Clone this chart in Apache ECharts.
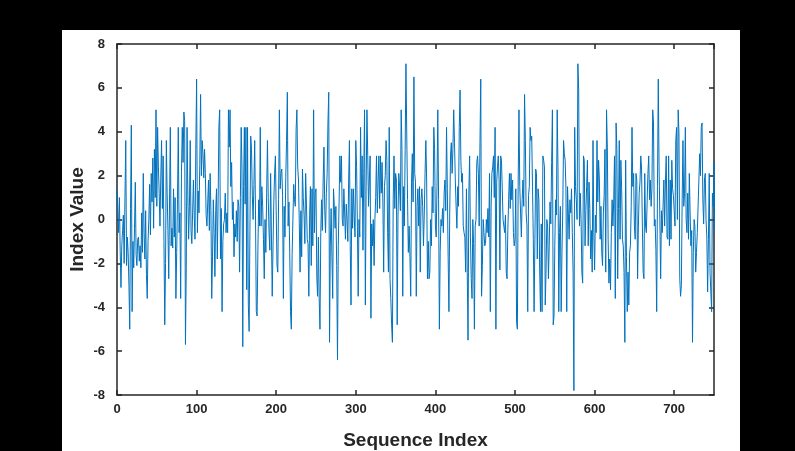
<!DOCTYPE html>
<html><head><meta charset="utf-8">
<script src="https://cdn.jsdelivr.net/npm/echarts@6/dist/echarts.min.js"></script>
<style>
html,body{margin:0;padding:0;background:#000;width:795px;height:451px;overflow:hidden}
#paper{position:absolute;left:62px;top:30px;width:678px;height:421px;background:#fff}
#c{position:absolute;left:0;top:0;width:795px;height:451px}
</style></head>
<body><div id="paper"></div><div id="c"></div>
<script>
const seg1=[1.4,0.5,-0.6,1.0,-1.4,-3.1,-1.2,-0.5,0.2,-2.0,1.0,3.6,-2.1,-0.8,-1.5,-3.0,-5.0,0.5,4.3,-4.2,-1.0,-2.2,-0.4,1.7,-1.6,-2.1,-0.9,-0.8,-1.9,-1.2,-2.2,0.3,-1.5,2.1,-0.6,-1.8,0.4,-2.5,-3.6,-1.0,0.0,1.6,-0.7,2.1,0.8,2.8,-0.4,3.2,1.0,5.0,0.6,4.2,2.4,1.2,-0.3,1.9,3.6,0.5,2.9,-1.0,-4.8];
const seg2=[-2.0,3.6,1.2,-0.5,-2.7,0.8,4.2,-1.2,-0.4,-1.3,1.4,-0.8,1.0,-3.6,-1.5,0.9,4.2,-0.6,0.3,-3.6,2.2,4.2,2.6,4.9,4.5,-5.7,-2.2,4.2,1.1,-0.9,0.6,3.6,-0.5,-1.1,0.3,1.8,0.2,-0.9,3.2,6.4,-0.6,1.3,0.3,2.5,5.7,2.0,3.6,3.0,1.9,3.2,2.1,0.2,-0.3,0.8,1.8,-0.5,2.1,0.4,-3.6,-1.7,0.9];
const seg3=[-0.6,-2.6,0.4,1.4,-1.8,0.7,4.2,5.0,-1.8,0.5,-4.2,-1.0,-0.2,0.0,1.2,-0.6,0.3,-0.6,5.0,3.3,5.0,1.5,2.6,0.0,0.8,-1.7,-0.2,-0.8,0.4,-1.0,0.9,0.6,-2.4,1.0,4.2,2.4,-5.8,1.5,4.2,0.7,4.2,-3.2,4.2,-3.9,-5.1,-0.5,3.8,3.2,1.1,0.0,1.6,3.6,0.2,-4.2,-4.4,-1.4,0.9,-0.3,4.2,-0.3,1.5,0.6,-0.9,-2.7,0.0];
const seg4=[-1.5,1.2,3.6,1.0,-0.6,-1.4,2.1,2.1,-3.5,-1.2,0.8,2.1,2.9,0.4,-2.1,-2.4,0.9,5.0,1.4,2.1,2.3,1.1,-3.6,0.6,-0.8,1.9,3.6,5.8,-0.3,0.8,-1.5,-4.2,-5.0,-1.6,0.0,1.6,0.9,0.6,4.1,5.0,2.4,1.8,-0.2,-2.4,0.4,-1.7,2.3,1.0,0.2,-1.1,2.1,0.7,-0.9,-1.1,-3.5,0.2,1.5,-2.1,1.4,-1.2,5.0,-0.6,1.2];
const seg5=[1.4,-2.6,-3.5,-0.8,-3.6,-5.0,-0.6,0.9,-0.5,1.8,3.3,0.4,-0.6,1.2,2.1,4.4,5.8,-5.6,-1.2,0.5,-1.7,-3.6,1.4,0.6,-0.4,0.6,-2.1,-6.4,-1.2,0.8,2.9,1.7,2.9,0.0,-0.3,1.4,0.3,-0.9,0.7,0.0,-1.0,1.7,3.6,-1.2,-3.9,1.4,-0.4,1.4,0.2,-0.8,3.6,2.4,-0.3,-3.5,0.0,-0.8,4.2,1.0,2.9,-1.4,2.1,5.0];
const seg6=[-3.9,1.5,5.0,2.9,0.6,0.6,2.9,-4.5,-0.2,-1.2,0.0,-2.1,0.0,1.0,2.9,0.3,1.7,2.9,0.5,2.9,1.2,2.6,0.8,-2.4,1.5,2.0,3.6,2.7,-0.6,-2.4,4.2,-2.7,-3.6,-4.8,-5.6,0.9,2.9,0.5,2.1,1.8,-4.8,0.2,2.1,1.5,0.4,5.0,3.2,-3.5,1.5,-0.3,3.2,7.1,3.9,0.9,-1.5,-0.3,-1.7,-3.5,1.7,3.0,0.8,6.5,2.1,1.7];
const seg7=[-3.5,0.6,1.4,-0.3,1.5,-2.4,0.9,1.4,0.6,-1.2,0.2,2.1,3.6,1.8,-2.7,-1.0,-2.7,-2.4,0.0,-1.2,1.5,0.3,4.2,3.2,-0.3,-0.8,1.5,5.0,0.9,-5.0,-1.5,0.0,-0.3,0.5,-0.6,1.2,1.8,0.4,4.2,1.4,-1.7,-4.2,0.3,2.9,3.5,2.1,3.2,5.0,3.5,1.8,0.6,-0.4,1.5,0.6,4.2,5.9,2.7,1.7,2.1,-0.3,-0.6,-0.8,-2.4];
const seg8=[1.4,-2.4,-5.5,1.2,2.9,-0.8,-2.7,-3.6,0.0,-1.1,-5.0,-0.3,0.0,2.6,2.9,2.1,-0.3,3.5,6.4,-3.5,-2.1,0.0,-0.6,-1.2,-1.1,0.0,-0.6,0.5,-0.8,2.1,-4.2,0.6,2.1,2.4,2.9,1.0,4.2,-5.0,1.7,2.4,2.9,1.8,-2.3,2.9,2.7,1.4,0.0,-0.3,-0.6,0.2,-2.4,-2.7,-0.5,0.9,2.1,0.5,2.1,0.9,1.8,-0.6,-1.2];
const seg9=[-0.9,1.4,-4.7,-5.0,1.8,5.0,1.5,0.3,-0.8,0.9,1.8,0.6,5.7,3.6,0.3,-0.3,-4.2,1.1,1.5,4.2,3.6,3.8,1.5,-0.9,-4.2,-4.2,2.3,2.1,-1.8,1.4,0.9,-2.3,-4.2,-0.2,-4.2,2.9,2.7,2.4,-3.9,-2.4,0.0,-0.3,-2.7,-1.2,0.8,-0.2,2.6,5.0,-4.8,-4.4,-1.2,0.9,0.2,5.0,2.4,-4.2,-0.6,0.6,-4.2,-1.5,0.4,3.6,3.0,2.7];
const seg10=[1.4,-4.2,1.5,0.3,-0.9,0.9,0.3,1.4,-0.6,-2.4,-7.8,4.2,1.5,0.9,0.0,7.1,5.9,-0.3,1.2,0.0,-2.4,-2.9,2.9,2.7,-1.2,0.4,1.5,2.7,-1.2,1.7,0.5,-1.8,-0.5,-2.4,3.6,-0.6,-2.3,0.2,-0.6,3.6,0.8,2.7,1.8,-0.9,0.6,-1.5,-2.1,0.3,1.1,3.2,-2.4,5.0,3.3,-0.9,-2.9,-1.8,-3.2,-0.6,0.9,-0.3,0.9,2.9,-3.6,4.4,3.2];
const seg11=[-2.7,0.5,3.6,-0.9,2.7,1.4,-0.9,-1.2,-2.4,-5.6,2.7,-1.7,-4.2,-2.4,-3.9,-1.5,-1.2,0.6,4.2,1.5,2.1,-0.3,-0.9,2.1,1.8,-2.7,-0.3,1.2,1.7,2.9,2.3,-0.3,-2.4,-2.7,2.1,-0.3,-0.6,0.8,2.1,2.9,0.9,1.8,0.6,1.4,5.0,4.4,-0.3,0.0,-1.4,-4.2,1.5,6.4,2.4,0.0,-2.7,0.4,-0.6,0.6,1.8,-0.3];
const seg12=[1.8,2.9,-0.8,-0.9,2.9,-1.2,1.8,-0.9,2.7,1.4,1.1,0.4,-0.3,3.6,4.2,0.0,5.0,3.9,-2.7,-3.5,-3.0,0.9,3.6,0.6,1.2,4.2,0.0,-0.6,1.2,-0.9,2.1,0.3,-1.2,-0.5,-5.6,-1.5,0.0,-0.3,-2.4,-1.5,-0.6,0.6,1.8,3.0,2.0,4.2,4.4,0.9,-0.2,1.8,2.1,0.0,-0.8,-3.3,-0.9,2.1,-2.4,-3.3,-4.2,1.2,0.6,2.6,-0.5];

const xTicks=[0,100,200,300,400,500,600,700];
const yTicks=[-8,-6,-4,-2,0,2,4,6,8];
const xTitle='Sequence Index';
const yTitle='Index Value';

const values=[].concat(seg1,seg2,seg3,seg4,seg5,seg6,seg7,seg8,seg9,seg10,seg11,seg12);
const data=values.map((v,i)=>[i,v]);

const ink='#262626';
const font='"Liberation Sans", Arial, sans-serif';
const lab={color:ink,fontWeight:'bold',fontSize:13,fontFamily:font};
function xa(pos,show){return {type:'value',min:0,max:750,interval:100,position:pos,
  axisLine:{show:true,onZero:false,lineStyle:{color:ink,width:1.5}},
  axisTick:{show:true,inside:true,length:5,lineStyle:{color:ink,width:1.5}},
  axisLabel:Object.assign({show:show,margin:8,showMaxLabel:false},lab),
  splitLine:{show:false},
  name:show?xTitle:'',nameLocation:'middle',nameGap:36,nameMoveOverlap:false,
  nameTextStyle:{color:ink,fontWeight:'bold',fontSize:19,fontFamily:font}};}
function ya(pos,show){return {type:'value',min:-8,max:8,interval:2,position:pos,
  axisLine:{show:true,onZero:false,lineStyle:{color:ink,width:1.5}},
  axisTick:{show:true,inside:true,length:5,lineStyle:{color:ink,width:1.5}},
  axisLabel:Object.assign({show:show,margin:12},lab),
  splitLine:{show:false},
  name:show?yTitle:'',nameLocation:'middle',nameGap:30,nameMoveOverlap:false,
  nameTextStyle:{color:ink,fontWeight:'bold',fontSize:19,fontFamily:font}};}

const chart=echarts.init(document.getElementById('c'),null,{renderer:'canvas'});
chart.setOption({
  animation:false,
  backgroundColor:'transparent',
  grid:{left:117,top:44,width:597,height:351,containLabel:false,outerBoundsMode:'none'},
  xAxis:[xa('bottom',true),xa('top',false)],
  yAxis:[ya('left',true),ya('right',false)],
  series:[{type:'line',data:data,showSymbol:false,symbol:'none',
    lineStyle:{color:'#0072BD',width:1},xAxisIndex:0,yAxisIndex:0}]
});
</script></body></html>
